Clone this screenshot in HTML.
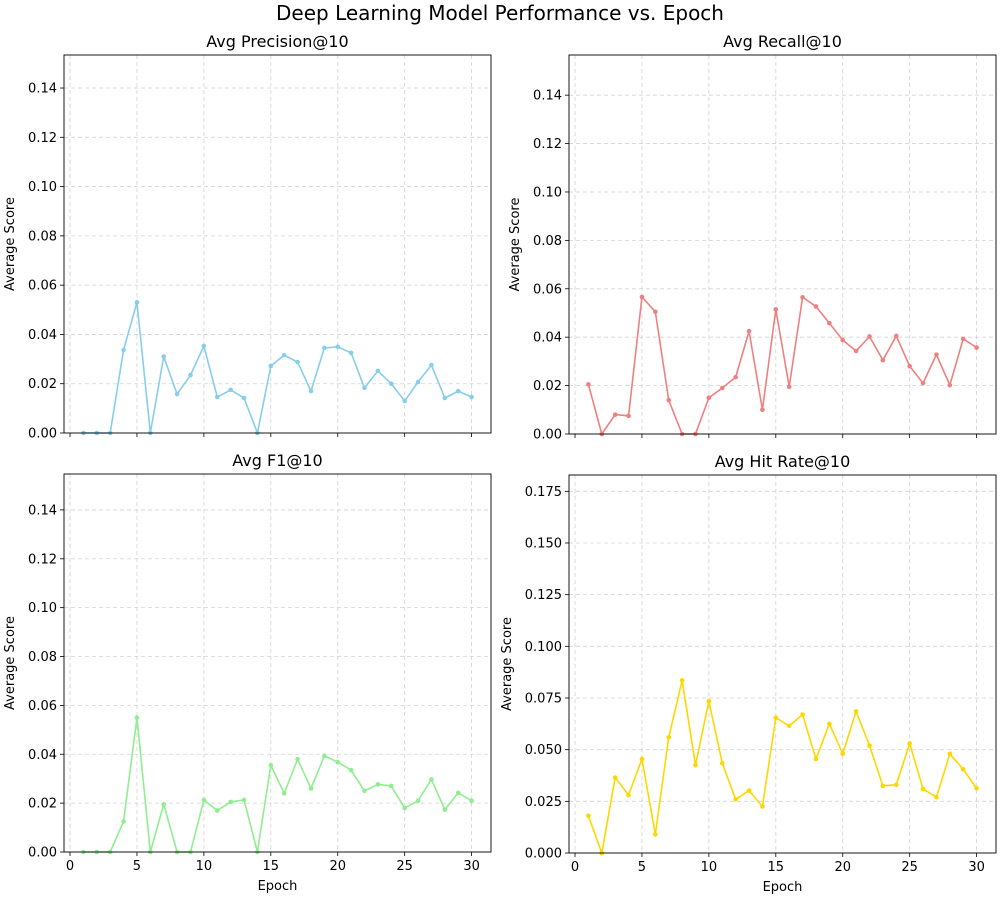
<!DOCTYPE html>
<html><head><meta charset="utf-8"><style>
body{margin:0;background:#fff;font-family:"Liberation Sans","DejaVu Sans",sans-serif;}
svg text{font-family:"DejaVu Sans","Liberation Sans",sans-serif;}
</style></head><body>
<svg id="fig" width="1000" height="900" xmlns="http://www.w3.org/2000/svg">
<text x="500" y="20" text-anchor="middle" font-size="20">Deep Learning Model Performance vs. Epoch</text>
</svg>
<script>
const epochs = [1,2,3,4,5,6,7,8,9,10,11,12,13,14,15,16,17,18,19,20,21,22,23,24,25,26,27,28,29,30];
const precision = [0,0,0,0.0337,0.053,0,0.031,0.0158,0.0235,0.0353,0.0146,0.0175,0.0142,0,0.0272,0.0316,0.0288,0.017,0.0345,0.035,0.0325,0.0183,0.0252,0.02,0.013,0.0207,0.0276,0.0142,0.017,0.0146];
const recall = [0.0205,0,0.008,0.0075,0.0566,0.0505,0.014,0,0,0.015,0.019,0.0235,0.0425,0.010,0.0515,0.0195,0.0565,0.0527,0.0458,0.0388,0.0343,0.0403,0.0305,0.0405,0.028,0.021,0.0328,0.0202,0.0393,0.0357];
const f1 = [0,0,0,0.0125,0.055,0,0.0195,0,0,0.0213,0.017,0.0205,0.0213,0,0.0355,0.024,0.038,0.026,0.0393,0.0368,0.0335,0.025,0.0277,0.027,0.018,0.021,0.0297,0.0173,0.0242,0.021];
const hitRate = [0.018,0,0.0365,0.028,0.0455,0.009,0.056,0.0835,0.0425,0.0735,0.0435,0.026,0.0302,0.0225,0.0655,0.0615,0.067,0.0455,0.0625,0.048,0.0685,0.052,0.0325,0.033,0.053,0.031,0.027,0.048,0.0405,0.0313];
const xTicks = [0,5,10,15,20,25,30];
const yTicksA = [0,0.02,0.04,0.06,0.08,0.10,0.12,0.14];
const yTicksH = [0,0.025,0.05,0.075,0.1,0.125,0.15,0.175];

const NS="http://www.w3.org/2000/svg";
const svg=document.getElementById('fig');
function mk(tag,attrs,parent){const e=document.createElementNS(NS,tag);for(const k in attrs)e.setAttribute(k,attrs[k]);(parent||svg).appendChild(e);return e;}

const panels=[
 {name:'precision',title:'Avg Precision@10',data:precision,color:'#87ceeb',L:64,R:491,T:55,B:433,ymax:0.1534,ticks:yTicksA,fmt:2,xl:false,ylx:14},
 {name:'recall',title:'Avg Recall@10',data:recall,color:'#f08080',L:569,R:996,T:55,B:434,ymax:0.1566,ticks:yTicksA,fmt:2,xl:false,ylx:519},
 {name:'f1',title:'Avg F1@10',data:f1,color:'#90ee90',L:64,R:491,T:474,B:852,ymax:0.1547,ticks:yTicksA,fmt:2,xl:true,ylx:14},
 {name:'hit-rate',title:'Avg Hit Rate@10',data:hitRate,color:'#ffd700',L:569,R:996,T:475,B:853,ymax:0.1829,ticks:yTicksH,fmt:3,xl:true,ylx:511}
];
panels.forEach(p=>{
 const g=mk('g',{});
 
 
 const xs=v=>p.L+(v+0.45)/(31.9)*(p.R-p.L);
 const ys=v=>p.B-v/p.ymax*(p.B-p.T);
 xTicks.forEach(t=>{
  const x=xs(t);
  const gl=mk('line',{x1:x,x2:x,y1:p.T,y2:p.B,stroke:'#d3d3d3','stroke-dasharray':'4,3','stroke-width':0.8},g);
  
  mk('line',{x1:x,x2:x,y1:p.B,y2:p.B+4,stroke:'#000','stroke-width':0.8},g);
  if(p.xl){const tx=mk('text',{x:x,y:p.B+18,'text-anchor':'middle','font-size':13},g);tx.textContent=t;
   }
 });
 p.ticks.forEach(t=>{
  const y=ys(t);
  if(y<p.T)return;
  const gl=mk('line',{x1:p.L,x2:p.R,y1:y,y2:y,stroke:'#d3d3d3','stroke-dasharray':'4,3','stroke-width':0.8},g);
  
  mk('line',{x1:p.L-4,x2:p.L,y1:y,y2:y,stroke:'#000','stroke-width':0.8},g);
  const tx=mk('text',{x:p.L-7,y:y+4.5,'text-anchor':'end','font-size':13},g);tx.textContent=t.toFixed(p.fmt);
  
 });
 const pts=epochs.map((e,i)=>xs(e)+','+ys(p.data[i])).join(' ');
 const line=mk('polyline',{points:pts,fill:'none',stroke:p.color,'stroke-width':1.6},g);
 
 epochs.forEach((e,i)=>{
  const c=mk('circle',{cx:xs(e),cy:ys(p.data[i]),r:2.3,fill:p.color},g);
  
 });
 const fr=mk('rect',{x:p.L,y:p.T,width:p.R-p.L,height:p.B-p.T,fill:'none',stroke:'#000','stroke-width':0.9},g);
 
 const ti=mk('text',{x:(p.L+p.R)/2,y:p.T-8,'text-anchor':'middle','font-size':16},g);ti.textContent=p.title;
 
 const cy=(p.T+p.B)/2;
 const yl=mk('text',{x:p.ylx,y:cy,'text-anchor':'middle','font-size':13,transform:'rotate(-90 '+p.ylx+' '+cy+')'},g);yl.textContent='Average Score';
 
 if(p.xl){const xl=mk('text',{x:(p.L+p.R)/2,y:p.B+38,'text-anchor':'middle','font-size':13},g);xl.textContent='Epoch';
  }
});
</script>
</body></html>
